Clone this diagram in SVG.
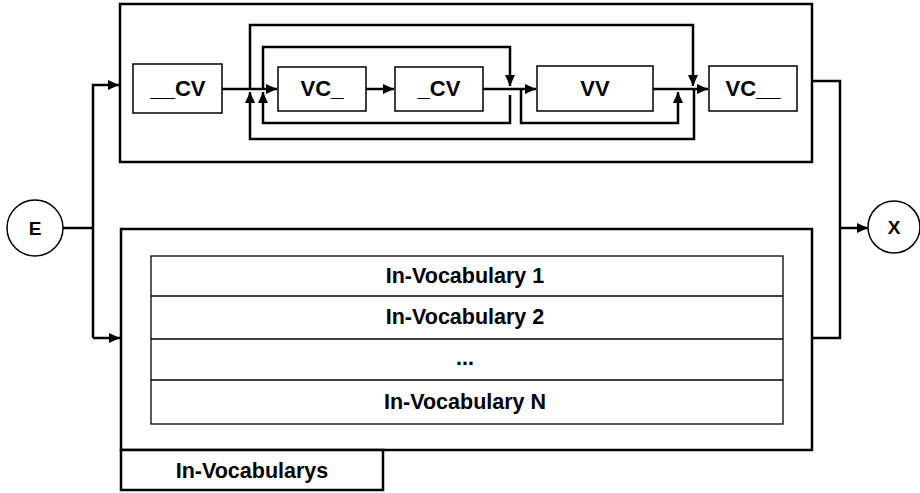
<svg xmlns="http://www.w3.org/2000/svg" width="920" height="493" viewBox="0 0 920 493">
<style>
.outer{fill:#fff;stroke:#000;stroke-width:2.5}
.node{fill:#fff;stroke:#000;stroke-width:1.5}
.row{fill:none;stroke:#000;stroke-width:1.3}
.conn{fill:none;stroke:#000;stroke-width:2.5}
.lbl{font-family:"Liberation Sans",Arial,sans-serif;font-weight:bold;font-size:22px;text-anchor:middle}
.tbl{font-family:"Liberation Sans",Arial,sans-serif;font-weight:bold;font-size:21.5px;text-anchor:middle}
</style>
<defs>
<marker id="ah" markerUnits="userSpaceOnUse" markerWidth="12" markerHeight="10" refX="11" refY="5" orient="auto">
<path d="M0,0 L11,5 L0,10 Z" fill="#000"/>
</marker>
</defs>
<rect width="920" height="493" fill="#fff"/>
<g id="top-box"><rect class="outer" x="120" y="4" width="692" height="158"/></g>
<g id="bottom-box"><rect class="outer" x="121" y="229" width="691" height="221"/></g>
<g id="label-box"><rect class="outer" x="121" y="450" width="262" height="40"/><text class="tbl" x="252" y="478">In-Vocabularys</text></g>
<g id="table">
<rect class="row" x="151" y="256" width="632" height="168"/>
<line class="row" x1="151" y1="296" x2="783" y2="296"/>
<line class="row" x1="151" y1="339" x2="783" y2="339"/>
<line class="row" x1="151" y1="380" x2="783" y2="380"/>
<text class="tbl" x="465" y="283">In-Vocabulary 1</text>
<text class="tbl" x="465" y="324">In-Vocabulary 2</text>
<text class="tbl" x="465" y="365">...</text>
<text class="tbl" x="465" y="409">In-Vocabulary N</text>
</g>
<g id="n-cv1"><rect class="node" x="133" y="64" width="89" height="49"/><text class="lbl" x="178" y="96">__CV</text></g>
<g id="n-vc1"><rect class="node" x="278" y="67" width="88" height="44"/><text class="lbl" x="322" y="96">VC_</text></g>
<g id="n-cv2"><rect class="node" x="395" y="67" width="88" height="44"/><text class="lbl" x="439" y="96">_CV</text></g>
<g id="n-vv"><rect class="node" x="537" y="66" width="116" height="45"/><text class="lbl" x="595" y="96">VV</text></g>
<g id="n-vc2"><rect class="node" x="709" y="66" width="88" height="45"/><text class="lbl" x="753" y="96">VC__</text></g>
<g id="n-e"><circle cx="35" cy="228" r="28" fill="#fff" stroke="#000" stroke-width="1.5"/><text class="lbl" x="35" y="235" style="font-size:19px">E</text></g>
<g id="n-x"><circle cx="894" cy="227" r="26" fill="#fff" stroke="#000" stroke-width="1.5"/><text class="lbl" x="894" y="234" style="font-size:19px">X</text></g>
<g id="connectors">
<path class="conn" d="M222,89 H277" marker-end="url(#ah)"/>
<path class="conn" d="M366,89 H394" marker-end="url(#ah)"/>
<path class="conn" d="M483,89 H536" marker-end="url(#ah)"/>
<path class="conn" d="M653,89 H708" marker-end="url(#ah)"/>
<path class="conn" d="M250,89 V25 H693 V86" marker-end="url(#ah)"/>
<path class="conn" d="M694,89 V139 H250 V92" marker-end="url(#ah)"/>
<path class="conn" d="M263,89 V47 H510 V86" marker-end="url(#ah)"/>
<path class="conn" d="M510,95 V123 H263 V92" marker-end="url(#ah)"/>
<path class="conn" d="M521,89 V123 H678 V92" marker-end="url(#ah)"/>
<path class="conn" d="M63,228 H93"/>
<path class="conn" d="M93,338 V85 H119" marker-end="url(#ah)"/>
<path class="conn" d="M93,338 H120" marker-end="url(#ah)"/>
<path class="conn" d="M812,81 H840 V338 H812"/>
<path class="conn" d="M840,228 H868" marker-end="url(#ah)"/>
</g>
</svg>
